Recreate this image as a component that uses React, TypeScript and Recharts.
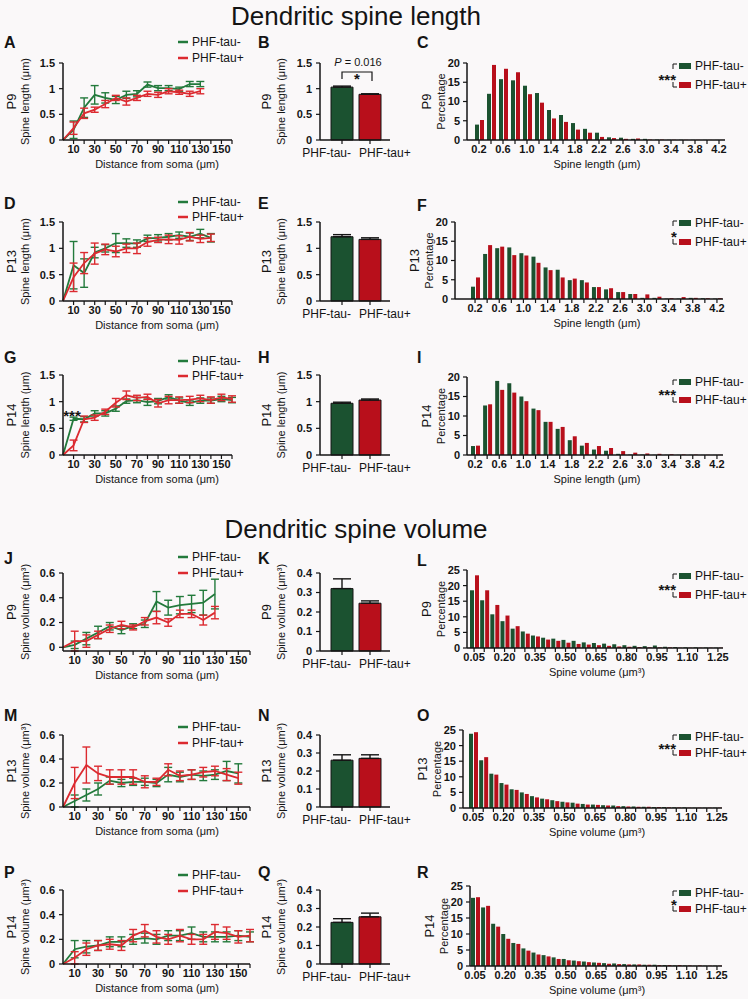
import React from 'react';
import { LineChart, Line, BarChart, Bar, XAxis, YAxis, ErrorBar, Cell } from 'recharts';

const FONT = '"Liberation Sans", Arial, Helvetica, sans-serif';
const INK = '#141414';
const BG = '#faf8f9';
const GREEN_LINE = '#237a3c';
const RED_LINE = '#dc2a30';
const GREEN_FILL = '#1b5230';
const RED_FILL = '#b80f1b';

// ---------------- data ----------------
const seriesNames = ['PHF-tau-', 'PHF-tau+'];
const distTicks = [10, 20, 30, 40, 50, 60, 70, 80, 90, 100, 110, 120, 130, 140, 150, 160];
const lengthTicks = [0, 0.5, 1, 1.5];
const volumeTicks = [0, 0.2, 0.4, 0.6];
const meanVolumeTicks = [0, 0.1, 0.2, 0.3, 0.4];
const pctLengthTicks = [0, 5, 10, 15, 20];
const pctVolumeTicks = [0, 5, 10, 15, 20, 25];

const DIST_TITLE = 'Distance from soma (\u03bcm)';
const LEN_TITLE = 'Spine length (\u03bcm)';
const VOL_TITLE = 'Spine volume (\u03bcm\u00b3)';

// A: P9 spine length vs distance
const distA = [0, 10, 20, 30, 40, 50, 60, 70, 80, 90, 100, 110, 120, 130];
const aGreen = [0, 0.2, 0.63, 0.88, 0.82, 0.78, 0.88, 0.9, 1.08, 1.01, 1.01, 0.99, 1.09, 1.09];
const aGreenErr = [0, 0.17, 0.19, 0.18, 0.1, 0.07, 0.07, 0.06, 0.05, 0.05, 0.05, 0.04, 0.05, 0.05];
const aRed = [0, 0.23, 0.52, 0.59, 0.7, 0.82, 0.75, 0.82, 0.9, 0.88, 0.95, 0.93, 0.9, 0.95];
const aRedErr = [0, 0.12, 0.1, 0.05, 0.07, 0.05, 0.07, 0.05, 0.05, 0.05, 0.05, 0.04, 0.05, 0.05];

// D: P13 spine length vs distance
const distD = [0, 10, 20, 30, 40, 50, 60, 70, 80, 90, 100, 110, 120, 130, 140];
const dGreen = [0, 0.68, 0.53, 0.92, 1.0, 1.1, 1.1, 1.09, 1.19, 1.2, 1.22, 1.25, 1.22, 1.28, 1.2];
const dGreenErr = [0, 0.45, 0.27, 0.1, 0.07, 0.18, 0.08, 0.07, 0.06, 0.06, 0.06, 0.06, 0.07, 0.08, 0.08];
const dRed = [0, 0.45, 0.72, 0.9, 0.98, 0.94, 1.0, 1.0, 1.12, 1.16, 1.17, 1.16, 1.22, 1.18, 1.2];
const dRedErr = [0, 0.27, 0.2, 0.2, 0.1, 0.1, 0.08, 0.1, 0.08, 0.05, 0.08, 0.08, 0.08, 0.07, 0.07];

// G: P14 spine length vs distance
const distG = [0, 10, 20, 30, 40, 50, 60, 70, 80, 90, 100, 110, 120, 130, 140, 150, 160];
const gGreen = [0, 0.68, 0.67, 0.78, 0.78, 0.87, 1.01, 1.03, 0.99, 1.01, 1.09, 1.02, 0.98, 1.02, 1.02, 1.05, 1.03];
const gGreenErr = [0, 0.03, 0.05, 0.05, 0.05, 0.05, 0.04, 0.05, 0.06, 0.05, 0.04, 0.05, 0.05, 0.05, 0.05, 0.05, 0.05];
const gRed = [0, 0.18, 0.67, 0.7, 0.81, 0.98, 1.12, 1.07, 1.09, 0.97, 1.03, 1.03, 1.04, 1.06, 1.03, 1.08, 1.05];
const gRedErr = [0, 0.1, 0.06, 0.05, 0.05, 0.08, 0.08, 0.05, 0.05, 0.07, 0.07, 0.06, 0.06, 0.06, 0.06, 0.06, 0.06];

// J: P9 spine volume vs distance
const distJ = [0, 10, 20, 30, 40, 50, 60, 70, 80, 90, 100, 110, 120, 130];
const jGreen = [0, 0.02, 0.07, 0.12, 0.17, 0.14, 0.17, 0.19, 0.37, 0.32, 0.34, 0.35, 0.36, 0.43];
const jGreenErr = [0, 0.03, 0.05, 0.05, 0.03, 0.03, 0.02, 0.03, 0.08, 0.06, 0.07, 0.07, 0.1, 0.12];
const jRed = [0, 0.05, 0.05, 0.1, 0.15, 0.18, 0.16, 0.21, 0.24, 0.2, 0.27, 0.27, 0.22, 0.28];
const jRedErr = [0, 0.08, 0.05, 0.03, 0.03, 0.03, 0.02, 0.03, 0.05, 0.03, 0.03, 0.03, 0.04, 0.05];

// M: P13 spine volume vs distance
const distM = [0, 10, 20, 30, 40, 50, 60, 70, 80, 90, 100, 110, 120, 130, 140, 150];
const mGreen = [0, 0.05, 0.1, 0.15, 0.22, 0.2, 0.21, 0.21, 0.2, 0.27, 0.25, 0.27, 0.26, 0.27, 0.3, 0.28];
const mGreenErr = [0, 0.05, 0.05, 0.05, 0.03, 0.03, 0.03, 0.03, 0.03, 0.06, 0.04, 0.04, 0.04, 0.04, 0.08, 0.08];
const mRed = [0, 0.2, 0.35, 0.28, 0.25, 0.25, 0.25, 0.21, 0.21, 0.31, 0.26, 0.27, 0.29, 0.3, 0.27, 0.24];
const mRedErr = [0, 0.13, 0.15, 0.06, 0.06, 0.06, 0.06, 0.05, 0.03, 0.05, 0.04, 0.04, 0.04, 0.04, 0.05, 0.05];

// P: P14 spine volume vs distance
const distP = [0, 10, 20, 30, 40, 50, 60, 70, 80, 90, 100, 110, 120, 130, 140, 150, 160];
const pGreen = [0, 0.12, 0.14, 0.15, 0.18, 0.18, 0.2, 0.21, 0.2, 0.23, 0.23, 0.25, 0.22, 0.22, 0.22, 0.23, 0.22];
const pGreenErr = [0, 0.07, 0.05, 0.04, 0.04, 0.04, 0.04, 0.04, 0.04, 0.04, 0.04, 0.05, 0.04, 0.04, 0.04, 0.04, 0.04];
const pRed = [0, 0.05, 0.12, 0.15, 0.16, 0.15, 0.23, 0.27, 0.22, 0.2, 0.23, 0.2, 0.2, 0.26, 0.25, 0.22, 0.23];
const pRedErr = [0, 0.05, 0.05, 0.04, 0.04, 0.04, 0.05, 0.05, 0.05, 0.04, 0.05, 0.04, 0.04, 0.06, 0.05, 0.05, 0.05];

// Mean bars (green = PHF-tau-, red = PHF-tau+)
const bMeans = [1.03, 0.89];
const bErrs = [0.02, 0.01];
const eMeans = [1.22, 1.17];
const eErrs = [0.04, 0.03];
const hMeans = [0.97, 1.03];
const hErrs = [0.02, 0.02];
const kMeans = [0.32, 0.245];
const kErrs = [0.05, 0.012];
const nMeans = [0.26, 0.27];
const nErrs = [0.03, 0.02];
const qMeans = [0.225, 0.255];
const qErrs = [0.02, 0.02];

// Histograms
const lengthBins = ['0.2', '0.4', '0.6', '0.8', '1.0', '1.2', '1.4', '1.6', '1.8', '2.0', '2.2', '2.4', '2.6', '2.8', '3.0', '3.2', '3.4', '3.6', '3.8', '4.0', '4.2'];
const volumeBins = ['0.05', '0.10', '0.15', '0.20', '0.25', '0.30', '0.35', '0.40', '0.45', '0.50', '0.55', '0.60', '0.65', '0.70', '0.75', '0.80', '0.85', '0.90', '0.95', '1.00', '1.05', '1.10', '1.15', '1.20', '1.25'];

const cGreen = [4.0, 12.0, 15.8, 15.5, 14.1, 12.2, 7.8, 6.5, 4.4, 2.9, 1.9, 0.7, 0.6, 0.3, 0.3, 0.1, 0.05, 0.05, 0.03, 0.03, 0.02];
const cRed = [5.2, 19.5, 18.5, 17.6, 11.9, 9.7, 5.6, 4.7, 2.7, 1.9, 0.8, 0.5, 0.3, 0.4, 0.1, 0.1, 0.05, 0.03, 0.03, 0.02, 0.02];
const fGreen = [3.2, 11.7, 13.2, 13.4, 11.9, 11.0, 8.2, 7.6, 4.9, 4.9, 3.1, 2.5, 1.8, 1.3, 0.3, 0.3, 0.1, 0.1, 0.3, 0.2, 0.1];
const fRed = [5.6, 14.0, 13.6, 11.4, 11.3, 9.4, 7.5, 5.6, 5.3, 4.3, 3.1, 2.8, 1.8, 1.3, 1.2, 0.6, 0.2, 0.5, 0.3, 0.2, 0.2];
const iGreen = [2.3, 12.7, 19.0, 18.4, 15.0, 11.9, 8.5, 6.7, 3.8, 2.4, 1.4, 1.1, 0.3, 0.1, 0.1, 0.05, 0.05, 0.05, 0.05, 0.03, 0.03];
const iRed = [2.4, 13.0, 16.7, 16.0, 13.8, 11.5, 8.5, 7.2, 4.8, 3.1, 2.3, 1.8, 1.0, 0.6, 0.4, 0.3, 0.2, 0.1, 0.1, 0.05, 0.05];
const lGreen = [18.5, 15.3, 10.8, 8.6, 6.2, 5.3, 4.0, 3.3, 3.0, 2.6, 2.3, 1.8, 1.6, 1.4, 1.2, 0.9, 0.7, 0.6, 0.8, 0.4, 0.3, 0.2, 0.2, 0.15, 0.1];
const lRed = [23.3, 18.5, 13.8, 10.4, 7.0, 4.6, 3.7, 2.7, 2.3, 1.7, 1.3, 1.1, 0.9, 0.7, 0.5, 0.4, 0.3, 0.2, 0.2, 0.2, 0.1, 0.1, 0.1, 0.1, 0.1];
const oGreen = [23.8, 15.3, 11.0, 8.0, 6.0, 5.0, 3.8, 3.0, 2.5, 2.0, 1.7, 1.3, 1.1, 0.9, 0.8, 0.6, 0.5, 0.4, 0.3, 0.3, 0.2, 0.2, 0.1, 0.1, 0.1];
const oRed = [24.3, 16.3, 10.7, 7.5, 5.8, 4.5, 3.4, 2.8, 2.2, 1.8, 1.4, 1.1, 1.0, 0.8, 0.6, 0.5, 0.4, 0.4, 0.3, 0.2, 0.2, 0.1, 0.1, 0.1, 0.1];
const rGreen = [21.3, 18.3, 13.2, 10.0, 7.2, 5.5, 4.2, 3.4, 2.7, 2.2, 1.7, 1.4, 1.1, 0.9, 0.8, 0.6, 0.5, 0.4, 0.4, 0.3, 0.2, 0.2, 0.1, 0.1, 0.1];
const rRed = [21.5, 18.8, 12.3, 8.5, 6.9, 4.8, 3.6, 3.0, 2.2, 1.8, 1.5, 1.2, 1.0, 0.7, 0.6, 0.5, 0.5, 0.4, 0.3, 0.3, 0.3, 0.2, 0.2, 0.1, 0.1];

// ---------------- styles ----------------
const tickFont = { fontSize: 11, fill: INK, fontFamily: FONT, fontWeight: 'bold' };
const axisProps = {
  axisLine: { stroke: INK, strokeWidth: 1.5 },
  tickLine: { stroke: INK, strokeWidth: 1.2 },
  tickSize: 4,
};

const distLabel = (v: number) => (v % 20 === 10 ? String(v) : '');

// ---------------- panels ----------------
function LinePanel(p: any) {
  const data = p.dist.map((d: number, i: number) => ({ d, g: p.g[i], ge: p.ge[i], r: p.r[i], re: p.re[i] }));
  const YW = 44, MT = 12, MR = 12, XH = 22;
  const W = p.x1 - p.x0 + YW + MR;
  const H = p.zero - p.top + MT + XH;
  return (
    <div style={{ position: 'absolute', left: p.x0 - YW, top: p.top - MT, width: W, height: H }}>
      <LineChart width={W} height={H} data={data} margin={{ top: MT, right: MR, bottom: 0, left: 0 }}>
        <XAxis dataKey="d" type="number" domain={[0, 160]} ticks={distTicks} interval={0}
          tickFormatter={distLabel} height={XH} tickMargin={1} tick={tickFont} {...axisProps} />
        <YAxis type="number" domain={[0, p.yMax]} ticks={p.yTicks} interval={0} width={YW}
          tickMargin={4} tick={tickFont} {...axisProps} />
        <Line type="linear" dataKey="g" stroke={GREEN_LINE} strokeWidth={1.8} dot={false} isAnimationActive={false}>
          <ErrorBar dataKey="ge" width={4} stroke={GREEN_LINE} strokeWidth={1.4} />
        </Line>
        <Line type="linear" dataKey="r" stroke={RED_LINE} strokeWidth={1.8} dot={false} isAnimationActive={false}>
          <ErrorBar dataKey="re" width={4} stroke={RED_LINE} strokeWidth={1.4} />
        </Line>
      </LineChart>
    </div>
  );
}

function BarTick(props: any) {
  const { x, y, payload, index } = props;
  const first = index === 0;
  return (
    <text x={x + (first ? 9 : -11)} y={y + 12} textAnchor={first ? 'end' : 'start'}
      fontSize={12} fontFamily={FONT} fill={INK}>{payload.value}</text>
  );
}

function MeanBarPanel(p: any) {
  const data = seriesNames.map((name, i) => ({ name, v: p.means[i], e: [0, p.errs[i]] }));
  const YW = 44, MT = 12, MR = 30, XH = 22;
  const W = p.x1 - p.x0 + YW + MR;
  const H = p.zero - p.top + MT + XH;
  return (
    <div style={{ position: 'absolute', left: p.x0 - YW, top: p.top - MT, width: W, height: H }}>
      <BarChart width={W} height={H} data={data} margin={{ top: MT, right: MR, bottom: 0, left: 0 }}>
        <XAxis dataKey="name" type="category" interval={0} padding={{ left: 8, right: 6 }} height={XH}
          tickMargin={1} tick={<BarTick />} {...axisProps} />
        <YAxis type="number" domain={[0, p.yMax]} ticks={p.yTicks} interval={0} width={YW}
          tickMargin={4} tick={tickFont} {...axisProps} />
        <Bar dataKey="v" barSize={22} stroke={INK} strokeWidth={1} isAnimationActive={false}>
          <Cell fill={GREEN_FILL} />
          <Cell fill={RED_FILL} />
          <ErrorBar dataKey="e" width={9} stroke={INK} strokeWidth={1.4} />
        </Bar>
      </BarChart>
    </div>
  );
}

function HistPanel(p: any) {
  const data = p.bins.map((b: string, i: number) => ({ b, g: p.g[i], r: p.r[i] }));
  const YW = 40, MT = 12, MR = 16, XH = 22;
  const W = p.x1 - p.x0 + YW + MR;
  const H = p.zero - p.top + MT + XH;
  const fmt = (v: string, i: number) => (i % p.step === 0 ? v : '');
  return (
    <div style={{ position: 'absolute', left: p.x0 - YW, top: p.top - MT, width: W, height: H }}>
      <BarChart width={W} height={H} data={data} margin={{ top: MT, right: MR, bottom: 0, left: 0 }}
        barGap={1} barCategoryGap={1}>
        <XAxis dataKey="b" type="category" interval={0} tickFormatter={fmt} padding={{ left: p.pad, right: 0 }}
          height={XH} tickMargin={1} tick={tickFont} {...axisProps} />
        <YAxis type="number" domain={[0, p.yMax]} ticks={p.yTicks} interval={0} width={YW}
          tickMargin={3} tick={tickFont} {...axisProps} />
        <Bar dataKey="g" fill={GREEN_FILL} barSize={4} isAnimationActive={false} />
        <Bar dataKey="r" fill={RED_FILL} barSize={4} isAnimationActive={false} />
      </BarChart>
    </div>
  );
}

// ---------------- layout ----------------
const leftPanels = [
  { letter: 'A', age: 'P9', dist: distA, g: aGreen, ge: aGreenErr, r: aRed, re: aRedErr, top: 63, zero: 140, x1: 232, yMax: 1.5, yTicks: lengthTicks, title: LEN_TITLE, ly: 42, leg: [42, 58] },
  { letter: 'D', age: 'P13', dist: distD, g: dGreen, ge: dGreenErr, r: dRed, re: dRedErr, top: 222, zero: 301, x1: 232, yMax: 1.5, yTicks: lengthTicks, title: LEN_TITLE, ly: 203, leg: [202, 217] },
  { letter: 'G', age: 'P14', dist: distG, g: gGreen, ge: gGreenErr, r: gRed, re: gRedErr, top: 375, zero: 455, x1: 232, yMax: 1.5, yTicks: lengthTicks, title: LEN_TITLE, ly: 357, leg: [361, 376] },
  { letter: 'J', age: 'P9', dist: distJ, g: jGreen, ge: jGreenErr, r: jRed, re: jRedErr, top: 573, zero: 651, x1: 250, yMax: 0.6, yTicks: volumeTicks, title: VOL_TITLE, ly: 558, leg: [557, 573] },
  { letter: 'M', age: 'P13', dist: distM, g: mGreen, ge: mGreenErr, r: mRed, re: mRedErr, top: 735, zero: 807, x1: 250, yMax: 0.6, yTicks: volumeTicks, title: VOL_TITLE, ly: 715, leg: [727, 743] },
  { letter: 'P', age: 'P14', dist: distP, g: pGreen, ge: pGreenErr, r: pRed, re: pRedErr, top: 890, zero: 964, x1: 250, yMax: 0.6, yTicks: volumeTicks, title: VOL_TITLE, ly: 872, leg: [875, 891] },
];

const midPanels = [
  { letter: 'B', age: 'P9', means: bMeans, errs: bErrs, top: 63, zero: 140, yMax: 1.5, yTicks: lengthTicks, title: LEN_TITLE, ly: 42 },
  { letter: 'E', age: 'P13', means: eMeans, errs: eErrs, top: 222, zero: 301, yMax: 1.5, yTicks: lengthTicks, title: LEN_TITLE, ly: 203 },
  { letter: 'H', age: 'P14', means: hMeans, errs: hErrs, top: 375, zero: 455, yMax: 1.5, yTicks: lengthTicks, title: LEN_TITLE, ly: 357 },
  { letter: 'K', age: 'P9', means: kMeans, errs: kErrs, top: 573, zero: 651, yMax: 0.4, yTicks: meanVolumeTicks, title: VOL_TITLE, ly: 558 },
  { letter: 'N', age: 'P13', means: nMeans, errs: nErrs, top: 735, zero: 807, yMax: 0.4, yTicks: meanVolumeTicks, title: VOL_TITLE, ly: 715 },
  { letter: 'Q', age: 'P14', means: qMeans, errs: qErrs, top: 890, zero: 964, yMax: 0.4, yTicks: meanVolumeTicks, title: VOL_TITLE, ly: 872 },
];

const rightPanels = [
  { letter: 'C', age: 'P9', bins: lengthBins, g: cGreen, r: cRed, step: 2, x0: 467, x1: 725, pad: 6, top: 63, zero: 140, yMax: 20, yTicks: pctLengthTicks, title: LEN_TITLE, ly: 42, leg: [66, 85], stars: '***' },
  { letter: 'F', age: 'P13', bins: lengthBins, g: fGreen, r: fRed, step: 2, x0: 455, x1: 723, pad: 14, top: 222, zero: 299, yMax: 20, yTicks: pctLengthTicks, title: LEN_TITLE, ly: 205, leg: [223, 242], stars: '*' },
  { letter: 'I', age: 'P14', bins: lengthBins, g: iGreen, r: iRed, step: 2, x0: 467, x1: 723, pad: 2, top: 377, zero: 455, yMax: 20, yTicks: pctLengthTicks, title: LEN_TITLE, ly: 357, leg: [382, 400], stars: '***' },
  { letter: 'L', age: 'P9', bins: volumeBins, g: lGreen, r: lRed, step: 3, x0: 467, x1: 723, pad: 2, top: 570, zero: 648, yMax: 25, yTicks: pctVolumeTicks, title: VOL_TITLE, ly: 560, leg: [576, 595], stars: '***' },
  { letter: 'O', age: 'P13', bins: volumeBins, g: oGreen, r: oRed, step: 3, x0: 463, x1: 722, pad: 5, top: 730, zero: 808, yMax: 25, yTicks: pctVolumeTicks, title: VOL_TITLE, ly: 715, leg: [737, 753], stars: '***' },
  { letter: 'R', age: 'P14', bins: volumeBins, g: rGreen, r: rRed, step: 3, x0: 470, x1: 722, pad: 0, top: 886, zero: 966, yMax: 25, yTicks: pctVolumeTicks, title: VOL_TITLE, ly: 872, leg: [893, 909], stars: '*' },
];

const LEFT_X0 = 63;
const MID_X0 = 320;
const MID_X1 = 390;

// ---------------- annotations ----------------
function Txt(props: any) {
  return <text fontFamily={FONT} fill={INK} {...props} />;
}

function Rot({ x, y, size, children }: any) {
  return (
    <text x={x} y={y} transform={`rotate(-90 ${x} ${y})`} textAnchor="middle" dominantBaseline="central"
      fontSize={size} fontFamily={FONT} fill={INK}>{children}</text>
  );
}

function LineLegend({ y1, y2 }: any) {
  return (
    <g>
      <line x1={178} x2={188} y1={y1} y2={y1} stroke={GREEN_LINE} strokeWidth={2.5} />
      <line x1={178} x2={188} y1={y2} y2={y2} stroke={RED_LINE} strokeWidth={2.5} />
      <Txt x={192} y={y1 + 4} fontSize={12}>{seriesNames[0]}</Txt>
      <Txt x={192} y={y2 + 4} fontSize={12}>{seriesNames[1]}</Txt>
    </g>
  );
}

function HistLegend({ y1, y2, stars }: any) {
  const x = 679;
  const bx = x - 6;
  const mid = (y1 + y2) / 2;
  const many = stars.length > 1;
  return (
    <g>
      <rect x={x} y={y1 - 3} width={12} height={6} fill={GREEN_FILL} />
      <rect x={x} y={y2 - 3} width={12} height={6} fill={RED_FILL} />
      <Txt x={x + 16} y={y1 + 4} fontSize={12}>{seriesNames[0]}</Txt>
      <Txt x={x + 16} y={y2 + 4} fontSize={12}>{seriesNames[1]}</Txt>
      <path d={`M${bx + 4} ${y1 - 2} H${bx} V${y1 + 3}`} stroke={INK} strokeWidth={1} fill="none" />
      <path d={`M${bx} ${y2 - 3} V${y2 + 2} H${bx + 4}`} stroke={INK} strokeWidth={1} fill="none" />
      <Txt x={many ? bx + 3 : bx + 1} y={mid + 9} fontSize={15} fontWeight="bold"
        textAnchor={many ? 'end' : 'middle'}>{stars}</Txt>
    </g>
  );
}

export default function App() {
  return (
    <div style={{ position: 'absolute', left: 0, top: 0, width: 748, height: 999, background: BG, overflow: 'hidden', fontFamily: FONT }}>
      {leftPanels.map((p) => (
        <LinePanel key={p.letter} {...p} x0={LEFT_X0} />
      ))}
      {midPanels.map((p) => (
        <MeanBarPanel key={p.letter} {...p} x0={MID_X0} x1={MID_X1} />
      ))}
      {rightPanels.map((p) => (
        <HistPanel key={p.letter} {...p} />
      ))}

      <svg width={748} height={999} style={{ position: 'absolute', left: 0, top: 0, pointerEvents: 'none' }}>
        <Txt x={356} y={25} fontSize={26} textAnchor="middle">Dendritic spine length</Txt>
        <Txt x={356} y={538} fontSize={26} textAnchor="middle">Dendritic spine volume</Txt>

        {leftPanels.map((p) => (
          <g key={'l' + p.letter}>
            <Txt x={4} y={p.ly + 6} fontSize={16} fontWeight="bold">{p.letter}</Txt>
            <Rot x={11} y={(p.top + p.zero) / 2} size={13}>{p.age}</Rot>
            <Rot x={25} y={(p.top + p.zero) / 2} size={11}>{p.title}</Rot>
            <Txt x={157} y={p.zero + 28} fontSize={11} textAnchor="middle">{DIST_TITLE}</Txt>
            <LineLegend y1={p.leg[0]} y2={p.leg[1]} />
          </g>
        ))}

        {midPanels.map((p) => (
          <g key={'m' + p.letter}>
            <Txt x={258} y={p.ly + 6} fontSize={16} fontWeight="bold">{p.letter}</Txt>
            <Rot x={266} y={(p.top + p.zero) / 2} size={13}>{p.age}</Rot>
            <Rot x={281} y={(p.top + p.zero) / 2} size={11}>{p.title}</Rot>
          </g>
        ))}

        {rightPanels.map((p) => (
          <g key={'r' + p.letter}>
            <Txt x={417} y={p.ly + 6} fontSize={16} fontWeight="bold">{p.letter}</Txt>
            <Rot x={p.x0 - 41} y={(p.top + p.zero) / 2} size={13}>{p.age}</Rot>
            <Rot x={p.x0 - 26} y={(p.top + p.zero) / 2} size={11}>Percentage</Rot>
            <Txt x={597} y={p.zero + 28} fontSize={11} textAnchor="middle">{p.title}</Txt>
            <HistLegend y1={p.leg[0]} y2={p.leg[1]} stars={p.stars} />
          </g>
        ))}

        {/* B significance */}
        <Txt x={358} y={66} fontSize={11} textAnchor="middle"><tspan fontStyle="italic">P</tspan> = 0.016</Txt>
        <path d="M342 79 V72 H372 V81" stroke={INK} strokeWidth={1.2} fill="none" />
        <Txt x={357} y={84} fontSize={15} fontWeight="bold" textAnchor="middle">*</Txt>

        {/* G significance */}
        <Txt x={72} y={421} fontSize={15} fontWeight="bold" textAnchor="middle">***</Txt>
      </svg>
    </div>
  );
}
